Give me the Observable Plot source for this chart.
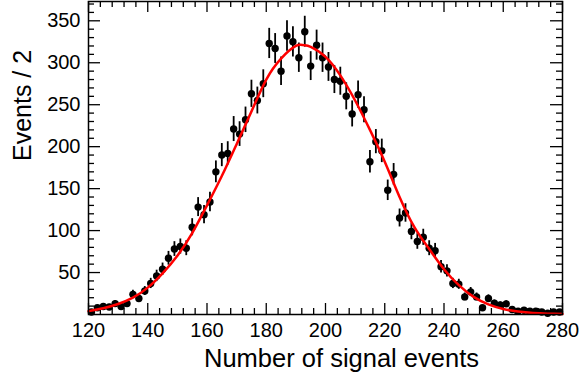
<!DOCTYPE html>
<html>
<head>
<meta charset="utf-8">
<script src="https://cdn.jsdelivr.net/npm/d3@7"></script>
<script src="https://cdn.jsdelivr.net/npm/@observablehq/plot@0.6"></script>
<style>
  html, body { margin: 0; padding: 0; background: white; }
</style>
</head>
<body>
<div id="chart"></div>
<script>
// Bin centres (bin width 2)
const binCenters = [121,123,125,127,129,131,133,135,137,139,141,143,145,147,149,151,153,155,157,159,
  161,163,165,167,169,171,173,175,177,179,181,183,185,187,189,191,193,195,197,199,
  201,203,205,207,209,211,213,215,217,219,221,223,225,227,229,231,233,235,237,239,
  241,243,245,247,249,251,253,255,257,259,261,263,265,267,269,271,273,275,277,279];
// Events per bin
const counts = [3,8,9.5,9,13,9.5,13,24,19,28,37,46,54,67,78,81,79,104,128,119,
  134,170,190,192,221,215,232,263,255,275,323,317,290,332,325,306,337,296,321,306,
  295,280,278,260,239,262,244,182,206,195,148,167,115,121,99,87,92,79,76,57,
  52,37,36,21,27,21,8,19,13.5,11.5,12.7,6,4,5,4,4,3,1.5,3,3];
// Error bar half-lengths
const errors = [1.7,2.8,3.1,3.0,3.6,3.1,3.6,4.9,4.4,5.3,6.1,6.8,7.3,8.2,8.8,9.0,8.9,10.2,11.3,10.9,
  11.6,13.0,13.8,13.9,14.9,14.7,15.2,16.2,16.0,16.6,18.0,17.8,17.0,18.2,18.0,17.5,18.4,17.2,17.9,17.5,
  17.2,16.7,16.7,16.1,15.5,16.2,15.6,13.5,14.4,14.0,12.2,12.9,10.7,11.0,9.9,9.3,9.6,8.9,8.7,7.5,
  7.2,6.1,6.0,4.6,5.2,4.6,2.8,4.4,3.7,3.4,3.6,2.4,2.0,2.2,2.0,2.0,1.7,1.2,1.7,1.7];
// Fit curve
const curveX = [120,125,130,135,140,145,150,155,160,165,170,175,180,185,190,192.5,195,200,205,210,215,220,225,230,235,240,245,250,255,260,265,270,275,280];
const curveY = [4,7.5,12.5,20,32,49,70,97,130,165,203,242,280,305,320,321,319,307,285,255,220,182,140,104,78,54,35,21,12,6.5,3.5,1.8,1,0.5];
// Ticks
const xMajor = [120,140,160,180,200,220,240,260,280];
const xMinor = [124,128,132,136,144,148,152,156,164,168,172,176,184,188,192,196,204,208,212,216,224,228,232,236,244,248,252,256,264,268,272,276];
const yMajor = [50,100,150,200,250,300,350];
const yMinor = [10,20,30,40,60,70,80,90,110,120,130,140,160,170,180,190,210,220,230,240,260,270,280,290,310,320,330,340,360,370];
const xTitle = "Number of signal events";
const yTitle = "Events / 2";

const points = binCenters.map((x, i) => ({x, y: counts[i], lo: counts[i] - errors[i], hi: counts[i] + errors[i]}));
const fit = curveX.map((x, i) => ({x, y: curveY[i]}));

const W = 581, H = 385, mL = 88, mR = 19, mT = 1, mB = 71;
const iw = W - mL - mR, ih = H - mT - mB;
const majLen = 11, minLen = 6;

const chart = Plot.plot({
  width: W, height: H,
  marginLeft: mL, marginRight: mR, marginTop: mT, marginBottom: mB,
  style: {fontFamily: "'Liberation Sans', Arial, Helvetica, sans-serif", fontSize: "20px", background: "white", color: "black"},
  x: {domain: [120, 280]},
  y: {domain: [0, 373]},
  marks: [
    // ticks (inward, all four sides)
    Plot.tickX(xMajor, {x: d => d, insetTop: ih - majLen, strokeWidth: 1.3}),
    Plot.tickX(xMajor, {x: d => d, insetBottom: ih - majLen, strokeWidth: 1.3}),
    Plot.tickX(xMinor, {x: d => d, insetTop: ih - minLen, strokeWidth: 1.3}),
    Plot.tickX(xMinor, {x: d => d, insetBottom: ih - minLen, strokeWidth: 1.3}),
    Plot.tickY(yMajor, {y: d => d, insetRight: iw - 12, strokeWidth: 1.3}),
    Plot.tickY(yMajor, {y: d => d, insetLeft: iw - 12, strokeWidth: 1.3}),
    Plot.tickY(yMinor, {y: d => d, insetRight: iw - minLen, strokeWidth: 1.3}),
    Plot.tickY(yMinor, {y: d => d, insetLeft: iw - minLen, strokeWidth: 1.3}),
    Plot.axisX({ticks: xMajor, tickSize: 0, tickPadding: 8, label: null, fontSize: 20}),
    Plot.axisY({ticks: yMajor, tickSize: 0, tickPadding: 8, label: null, fontSize: 20}),
    // data
    Plot.ruleX(points, {x: "x", y1: "lo", y2: "hi", stroke: "black", strokeWidth: 1.8}),
    Plot.dot(points, {x: "x", y: "y", r: 3.7, fill: "black", stroke: "none"}),
    Plot.line(fit, {x: "x", y: "y", stroke: "#ff0000", strokeWidth: 2.5, curve: "natural"}),
    Plot.frame({stroke: "black", strokeWidth: 1.5}),
    // axis titles
    Plot.text([xTitle], {frameAnchor: "bottom", dx: 16, dy: 44, text: d => d, fontSize: 25.5, lineAnchor: "middle"}),
    Plot.text([yTitle], {frameAnchor: "left", dx: -66, dy: 3, text: d => d, fontSize: 25, rotate: -90, lineAnchor: "middle"})
  ]
});
document.getElementById("chart").appendChild(chart);
</script>
</body>
</html>
